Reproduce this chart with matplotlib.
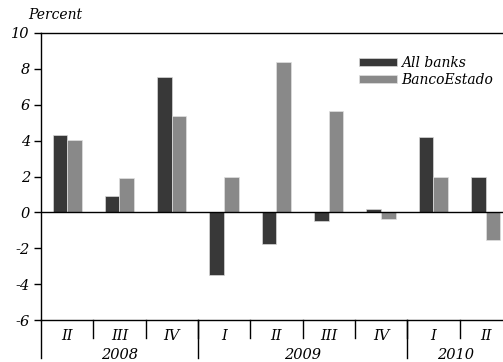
import numpy as np
import matplotlib.pyplot as plt

plt.rcParams['font.family'] = 'DejaVu Serif'
plt.rcParams['font.style'] = 'italic'
plt.rcParams['axes.unicode_minus'] = False

quarters = ['II', 'III', 'IV', 'I', 'II', 'III', 'IV', 'I', 'II']
years = ['2008', '2009', '2010']
year_spans = [(0, 2), (3, 6), (7, 8)]
all_banks = [4.33, 0.93, 7.56, -3.47, -1.78, -0.46, 0.21, 4.2, 2.0]
banco_estado = [4.01, 1.9, 5.39, 1.97, 8.4, 5.65, -0.37, 2.0, -1.54]

dark = '#383838'
gray = '#898989'

fig = plt.figure(figsize=(5.03, 3.62), dpi=100)
ax = fig.add_axes([41 / 503, 1 - 320 / 362, 462 / 503, 287 / 362])

x = np.arange(len(quarters))
w = 0.28
ax.bar(x - w / 2, all_banks, w, color=dark, edgecolor='#d8d8d8', linewidth=0.5, label='All banks')
ax.bar(x + w / 2, banco_estado, w, color=gray, edgecolor='#e0e0e0', linewidth=0.5, label='BancoEstado')
ax.axhline(0, color='black', lw=1)

ax.set_ylim(-6, 10)
ax.set_xlim(-0.5, 8.33)
ax.set_yticks(range(-6, 11, 2))
ax.set_xticks([])
ax.tick_params(axis='y', direction='out', length=5, width=1, labelsize=10.5, pad=3)
ax.spines['right'].set_visible(False)
for s in ['left', 'top', 'bottom']:
    ax.spines[s].set_linewidth(1)

# quarter / year labels under the axis
trans = ax.get_xaxis_transform()
for i, q in enumerate(quarters):
    ax.text(i, -0.055, q, transform=trans, ha='center', va='center', fontsize=10.5)
    if i > 0:
        ax.plot([i - 0.5, i - 0.5], [0, -0.063], transform=trans, color='black', lw=1, clip_on=False)
for (a, b), yr in zip(year_spans, years):
    ax.plot([a - 0.5, a - 0.5], [0, -0.132], transform=trans, color='black', lw=1, clip_on=False)
    mid = (a - 0.5 + min(b + 0.5, 8.33)) / 2
    ax.text(mid, -0.122, yr, transform=trans, ha='center', va='center', fontsize=10.5)

ax.legend(loc='upper left', bbox_to_anchor=(0.674, 0.945), frameon=False, fontsize=10,
          handlelength=2.7, handleheight=0.5, handletextpad=0.3, labelspacing=0.25, borderpad=0)

fig.text(28 / 503, 1 - 15 / 362, 'Percent', ha='left', va='center', fontsize=10)

fig.savefig('out.png', dpi=100)
